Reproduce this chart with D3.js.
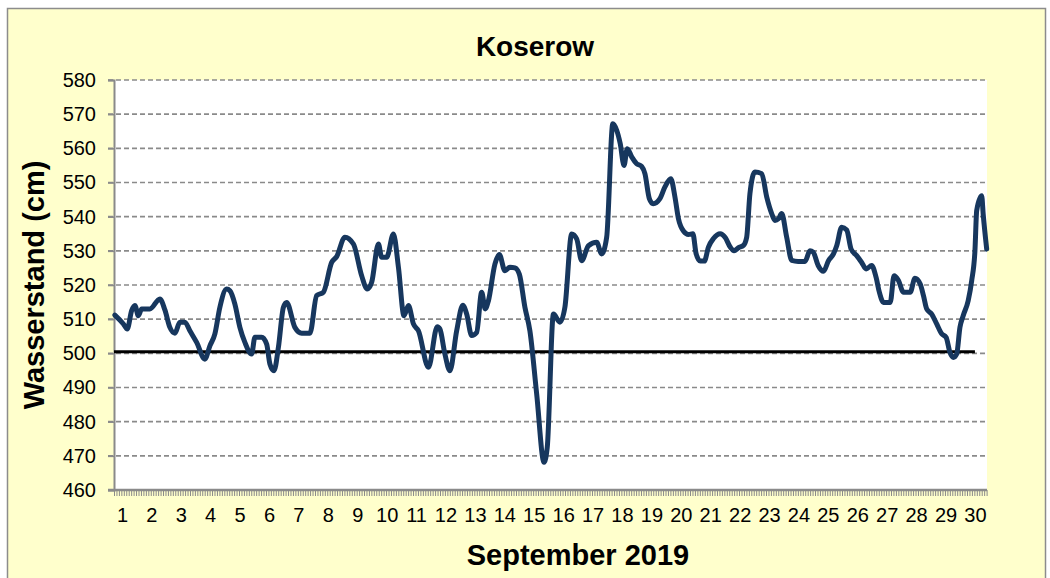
<!DOCTYPE html>
<html><head><meta charset="utf-8">
<script src="https://cdn.jsdelivr.net/npm/d3@7"></script>
<style>html,body{margin:0;padding:0;background:#fff;}svg{display:block;font-family:"Liberation Sans",Arial,sans-serif;}</style>
</head><body>
<svg id="c" width="1050" height="578"></svg>
<script>
// Time in days of September 2019 (day 1 = label "1")
const days = [0.76,1.05,1.18,1.33,1.44,1.56,1.67,1.95,2.29,2.46,2.63,2.80,2.97,3.14,3.31,3.54,3.82,3.99,4.16,4.33,4.56,4.67,4.84,5.01,5.18,5.41,5.52,5.75,5.92,6.03,6.17,6.32,6.49,6.60,6.88,7.11,7.39,7.62,7.85,8.13,8.30,8.58,8.87,9.15,9.34,9.49,9.72,9.83,10.00,10.23,10.40,10.59,10.74,10.91,11.08,11.42,11.72,11.81,11.98,12.15,12.38,12.59,12.72,12.89,13.06,13.23,13.35,13.46,13.68,13.83,14.02,14.19,14.36,14.51,14.70,14.87,15.10,15.35,15.46,15.67,15.89,16.06,16.29,16.46,16.63,16.86,17.14,17.31,17.48,17.69,17.82,17.94,18.07,18.18,18.33,18.50,18.67,18.78,18.93,19.06,19.29,19.46,19.66,19.80,19.92,20.09,20.26,20.41,20.52,20.66,20.80,20.94,21.11,21.34,21.51,21.68,21.81,21.96,22.13,22.24,22.35,22.52,22.75,22.92,23.09,23.20,23.32,23.43,23.60,23.77,23.99,24.22,24.39,24.50,24.67,24.85,25.02,25.19,25.30,25.47,25.64,25.79,25.98,26.15,26.30,26.49,26.64,26.75,26.89,27.12,27.25,27.40,27.57,27.80,27.96,28.14,28.25,28.36,28.53,28.70,28.87,29.02,29.15,29.27,29.38,29.49,29.60,29.77,29.89,30.00,30.06,30.23,30.28,30.40];
const levels = [511.2,508.6,507.1,512.5,514.0,511.0,513.0,513.0,515.9,512.7,507.6,505.9,509.1,509.1,506.6,503.2,498.3,502.2,505.7,513.5,518.8,518.3,514.4,507.6,503.2,499.8,504.7,504.7,502.7,496.9,494.9,501.8,513.5,514.9,507.6,505.9,505.9,516.9,517.9,526.6,528.3,534.0,532.0,522.7,518.8,520.8,532.0,528.1,528.1,534.9,525.2,511.0,514.0,508.6,506.6,495.9,507.8,507.1,499.8,494.9,506.6,514.1,511.5,505.2,506.1,517.9,513.0,515.4,526.1,528.9,524.2,525.2,525.0,523.2,513.5,506.6,488.1,468.1,472.5,511.5,509.1,513.5,534.9,533.5,527.1,531.5,532.5,529.1,534.0,567.2,565.3,561.4,555.0,559.9,557.5,555.5,554.7,552.6,545.3,543.8,545.3,548.7,551.1,545.8,539.4,535.8,534.8,535.0,529.2,527.0,527.0,531.1,533.6,535.0,533.9,531.1,530.0,530.9,531.6,534.0,546.7,553.1,552.6,545.8,540.9,538.9,539.4,540.9,534.0,527.2,526.9,526.9,530.0,529.6,525.7,524.0,527.1,529.1,531.5,536.9,536.1,530.5,528.6,526.6,524.7,525.7,522.2,517.9,514.9,514.9,522.7,521.3,517.9,517.9,522.0,520.3,516.9,513.0,511.5,508.6,505.7,504.7,500.3,498.8,499.8,507.6,511.0,515.4,521.3,530.0,541.8,546.1,540.8,530.5];
const dayLabels = d3.range(1, 31);
const yTicks = d3.range(460, 581, 10);
const refLevel = 500;
const refDays = [0.73, 30.0];
const title = "Koserow";
const xTitle = "September 2019";
const yTitle = "Wasserstand (cm)";

const svg = d3.select("#c");
const L = 114, R = 987, T = 80, B = 490;
const x = d3.scaleLinear().domain([0.73, 30.41]).range([L, R]);
const y = d3.scaleLinear().domain([460, 580]).range([B, T]);

svg.append("rect").attr("x", 7.5).attr("y", 8.5).attr("width", 1038).attr("height", 600)
  .attr("fill", "#FFFFCC").attr("stroke", "#8c8c8c").attr("stroke-width", 1.5);
svg.append("rect").attr("x", L).attr("y", T).attr("width", R - L).attr("height", B - T).attr("fill", "#fff");

// gridlines
const grid = svg.append("g");
grid.selectAll("line").data(yTicks.filter(v => v > 460)).join("line")
  .attr("x1", L - 6).attr("x2", R).attr("y1", d => y(d)).attr("y2", d => y(d))
  .attr("stroke", "#8a8a8a").attr("stroke-width", 1.6).attr("stroke-dasharray", "5,3");

// y axis
const yAxis = svg.append("g").attr("transform", `translate(${L},0)`)
  .call(d3.axisLeft(y).tickValues(yTicks).tickSize(6).tickPadding(12));
yAxis.select(".domain").attr("stroke", "#8a8a8a").attr("stroke-width", 2);
yAxis.selectAll(".tick line").attr("stroke", "#8a8a8a").attr("stroke-width", 1.6);
yAxis.selectAll(".tick text").attr("font-size", 20).attr("fill", "#000")
  .attr("font-family", "Liberation Sans, Arial, sans-serif");

// x axis minor ticks
const minor = d3.range(0.73, 30.42, 1 / 12);
const xAxis = svg.append("g").attr("transform", `translate(0,${B})`)
  .call(d3.axisBottom(x).tickValues(minor).tickSize(6).tickFormat(""));
xAxis.select(".domain").attr("stroke", "#8a8a8a").attr("stroke-width", 2.5).attr("d", `M${L - 6},0H${R}`);
xAxis.selectAll(".tick line").attr("stroke", "#8a8a8a").attr("stroke-width", 1);

// x labels
const xLab = svg.append("g").attr("transform", `translate(0,${B})`)
  .call(d3.axisBottom(x).tickValues(dayLabels).tickSize(0).tickPadding(18).tickFormat(d3.format("d")));
xLab.select(".domain").remove();
xLab.selectAll(".tick text").attr("font-size", 20).attr("fill", "#000")
  .attr("font-family", "Liberation Sans, Arial, sans-serif");

// reference line
svg.append("line").attr("x1", x(refDays[0])).attr("x2", x(refDays[1]))
  .attr("y1", y(refLevel) - 1.5).attr("y2", y(refLevel) - 1.5)
  .attr("stroke", "#000").attr("stroke-width", 3);

// data line
const line = d3.line().x((d, i) => x(days[i])).y(d => y(d)).curve(d3.curveMonotoneX);
svg.append("path").datum(levels).attr("d", line).attr("fill", "none")
  .attr("stroke", "#17375E").attr("stroke-width", 5).attr("stroke-linejoin", "round").attr("stroke-linecap", "round");

// titles
svg.append("text").attr("x", 535).attr("y", 56).attr("text-anchor", "middle")
  .attr("font-size", 28).attr("font-weight", "bold").text(title);
svg.append("text").attr("x", 578).attr("y", 565).attr("text-anchor", "middle")
  .attr("font-size", 29).attr("font-weight", "bold").text(xTitle);
svg.append("text").attr("transform", "translate(44,285) rotate(-90)").attr("text-anchor", "middle")
  .attr("font-size", 29).attr("font-weight", "bold").text(yTitle);
</script>
</body></html>
